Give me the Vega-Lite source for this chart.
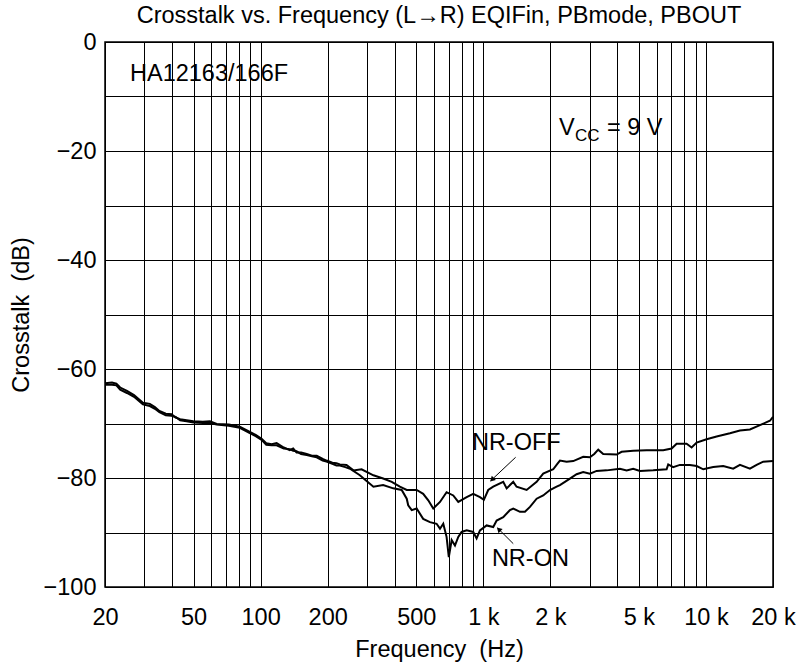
{
  "$schema": "https://vega.github.io/schema/vega-lite/v6.json",
  "autosize": {"type": "none"},
  "width": 668,
  "height": 545,
  "padding": {"left": 105, "top": 42, "right": 26, "bottom": 84},
  "background": "white",
  "title": {"text": "Crosstalk vs. Frequency (L\u2192R) EQIFin, PBmode, PBOUT", "font": "Liberation Sans", "fontSize": 23.5, "fontWeight": "normal", "color": "black", "offset": 3, "frame": "group", "anchor": "middle"},
  "config": {
    "font": "Liberation Sans",
    "view": {"stroke": "black", "strokeWidth": 1.5},
    "axis": {"labelFont": "Liberation Sans", "labelFontSize": 23.5, "labelColor": "black", "titleFont": "Liberation Sans", "titleFontSize": 23.5, "titleFontWeight": "normal", "titleColor": "black", "domain": false, "ticks": false, "grid": true, "gridColor": "black", "gridOpacity": 1, "gridWidth": 1, "labelOverlap": false, "labelFlush": false, "labelBound": false}
  },
  "datasets": {
    "curves": [
      {"series": "NR-OFF", "freq": 20, "db": -62.6}, {"series": "NR-OFF", "freq": 21.5, "db": -62.5}, {"series": "NR-OFF", "freq": 22.5, "db": -62.7}, {"series": "NR-OFF", "freq": 23.4, "db": -63.4}, {"series": "NR-OFF", "freq": 25.1, "db": -64.0}, {"series": "NR-OFF", "freq": 27, "db": -64.8}, {"series": "NR-OFF", "freq": 29.6, "db": -66.2}, {"series": "NR-OFF", "freq": 31.8, "db": -66.4}, {"series": "NR-OFF", "freq": 33.5, "db": -67.0}, {"series": "NR-OFF", "freq": 35.1, "db": -67.7}, {"series": "NR-OFF", "freq": 37.5, "db": -68.2}, {"series": "NR-OFF", "freq": 39.8, "db": -68.3}, {"series": "NR-OFF", "freq": 41.5, "db": -68.9}, {"series": "NR-OFF", "freq": 43.5, "db": -69.2}, {"series": "NR-OFF", "freq": 46.5, "db": -69.4}, {"series": "NR-OFF", "freq": 49.9, "db": -69.6}, {"series": "NR-OFF", "freq": 55, "db": -69.7}, {"series": "NR-OFF", "freq": 59.2, "db": -69.6}, {"series": "NR-OFF", "freq": 63.5, "db": -70.1}, {"series": "NR-OFF", "freq": 72, "db": -70.2}, {"series": "NR-OFF", "freq": 80.6, "db": -70.6}, {"series": "NR-OFF", "freq": 89, "db": -71.5}, {"series": "NR-OFF", "freq": 95, "db": -72.1}, {"series": "NR-OFF", "freq": 101, "db": -72.8}, {"series": "NR-OFF", "freq": 106, "db": -73.6}, {"series": "NR-OFF", "freq": 112, "db": -73.8}, {"series": "NR-OFF", "freq": 118, "db": -73.6}, {"series": "NR-OFF", "freq": 127, "db": -74.4}, {"series": "NR-OFF", "freq": 135, "db": -74.9}, {"series": "NR-OFF", "freq": 140, "db": -74.6}, {"series": "NR-OFF", "freq": 145, "db": -75.3}, {"series": "NR-OFF", "freq": 152, "db": -75.3}, {"series": "NR-OFF", "freq": 161, "db": -75.6}, {"series": "NR-OFF", "freq": 170, "db": -75.9}, {"series": "NR-OFF", "freq": 178.6, "db": -75.9}, {"series": "NR-OFF", "freq": 190, "db": -76.5}, {"series": "NR-OFF", "freq": 197.6, "db": -76.8}, {"series": "NR-OFF", "freq": 210, "db": -77.2}, {"series": "NR-OFF", "freq": 219, "db": -77.3}, {"series": "NR-OFF", "freq": 227, "db": -77.5}, {"series": "NR-OFF", "freq": 243, "db": -77.6}, {"series": "NR-OFF", "freq": 261, "db": -78.6}, {"series": "NR-OFF", "freq": 284, "db": -78.4}, {"series": "NR-OFF", "freq": 321, "db": -79.5}, {"series": "NR-OFF", "freq": 355, "db": -80.1}, {"series": "NR-OFF", "freq": 388, "db": -80.7}, {"series": "NR-OFF", "freq": 422, "db": -81.6}, {"series": "NR-OFF", "freq": 453, "db": -82.2}, {"series": "NR-OFF", "freq": 502, "db": -82.2}, {"series": "NR-OFF", "freq": 537, "db": -82.9}, {"series": "NR-OFF", "freq": 566, "db": -84.1}, {"series": "NR-OFF", "freq": 596, "db": -85.6}, {"series": "NR-OFF", "freq": 639, "db": -84.4}, {"series": "NR-OFF", "freq": 684, "db": -82.6}, {"series": "NR-OFF", "freq": 733, "db": -83.2}, {"series": "NR-OFF", "freq": 772, "db": -84.4}, {"series": "NR-OFF", "freq": 842, "db": -83.5}, {"series": "NR-OFF", "freq": 901, "db": -82.9}, {"series": "NR-OFF", "freq": 966, "db": -83.5}, {"series": "NR-OFF", "freq": 1006, "db": -84.0}, {"series": "NR-OFF", "freq": 1052, "db": -82.2}, {"series": "NR-OFF", "freq": 1108, "db": -81.6}, {"series": "NR-OFF", "freq": 1229, "db": -80.7}, {"series": "NR-OFF", "freq": 1273, "db": -81.9}, {"series": "NR-OFF", "freq": 1363, "db": -80.7}, {"series": "NR-OFF", "freq": 1411, "db": -81.6}, {"series": "NR-OFF", "freq": 1565, "db": -82.2}, {"series": "NR-OFF", "freq": 1736, "db": -80.7}, {"series": "NR-OFF", "freq": 1858, "db": -79.2}, {"series": "NR-OFF", "freq": 2061, "db": -78.4}, {"series": "NR-OFF", "freq": 2150, "db": -77.4}, {"series": "NR-OFF", "freq": 2209, "db": -76.8}, {"series": "NR-OFF", "freq": 2367, "db": -77.0}, {"series": "NR-OFF", "freq": 2535, "db": -76.9}, {"series": "NR-OFF", "freq": 2810, "db": -76.1}, {"series": "NR-OFF", "freq": 3012, "db": -76.2}, {"series": "NR-OFF", "freq": 3150, "db": -75.6}, {"series": "NR-OFF", "freq": 3282, "db": -74.8}, {"series": "NR-OFF", "freq": 3456, "db": -75.6}, {"series": "NR-OFF", "freq": 3970, "db": -75.7}, {"series": "NR-OFF", "freq": 4180, "db": -75.2}, {"series": "NR-OFF", "freq": 4712, "db": -75.0}, {"series": "NR-OFF", "freq": 5413, "db": -74.9}, {"series": "NR-OFF", "freq": 6426, "db": -74.9}, {"series": "NR-OFF", "freq": 7010, "db": -74.6}, {"series": "NR-OFF", "freq": 7382, "db": -73.7}, {"series": "NR-OFF", "freq": 8186, "db": -73.7}, {"series": "NR-OFF", "freq": 8621, "db": -74.4}, {"series": "NR-OFF", "freq": 9079, "db": -73.5}, {"series": "NR-OFF", "freq": 10066, "db": -72.9}, {"series": "NR-OFF", "freq": 11162, "db": -72.4}, {"series": "NR-OFF", "freq": 12812, "db": -71.8}, {"series": "NR-OFF", "freq": 14208, "db": -71.3}, {"series": "NR-OFF", "freq": 15756, "db": -71.1}, {"series": "NR-OFF", "freq": 17473, "db": -70.3}, {"series": "NR-OFF", "freq": 19370, "db": -69.5}, {"series": "NR-OFF", "freq": 20000, "db": -68.8},
      {"series": "NR-ON", "freq": 20, "db": -62.9}, {"series": "NR-ON", "freq": 21.5, "db": -62.9}, {"series": "NR-ON", "freq": 22.5, "db": -63.0}, {"series": "NR-ON", "freq": 23.4, "db": -63.8}, {"series": "NR-ON", "freq": 25.1, "db": -64.4}, {"series": "NR-ON", "freq": 27, "db": -65.1}, {"series": "NR-ON", "freq": 29.6, "db": -66.5}, {"series": "NR-ON", "freq": 31.8, "db": -66.8}, {"series": "NR-ON", "freq": 33.5, "db": -67.3}, {"series": "NR-ON", "freq": 35.1, "db": -67.9}, {"series": "NR-ON", "freq": 37.5, "db": -68.5}, {"series": "NR-ON", "freq": 39.8, "db": -68.6}, {"series": "NR-ON", "freq": 41.5, "db": -68.8}, {"series": "NR-ON", "freq": 43.5, "db": -69.4}, {"series": "NR-ON", "freq": 46.5, "db": -69.6}, {"series": "NR-ON", "freq": 49.9, "db": -69.8}, {"series": "NR-ON", "freq": 55, "db": -69.9}, {"series": "NR-ON", "freq": 59.2, "db": -69.9}, {"series": "NR-ON", "freq": 63.5, "db": -70.2}, {"series": "NR-ON", "freq": 72, "db": -70.4}, {"series": "NR-ON", "freq": 80.6, "db": -70.8}, {"series": "NR-ON", "freq": 89, "db": -71.7}, {"series": "NR-ON", "freq": 95, "db": -72.3}, {"series": "NR-ON", "freq": 101, "db": -73.0}, {"series": "NR-ON", "freq": 106, "db": -73.9}, {"series": "NR-ON", "freq": 112, "db": -74.0}, {"series": "NR-ON", "freq": 118, "db": -74.0}, {"series": "NR-ON", "freq": 127, "db": -74.6}, {"series": "NR-ON", "freq": 135, "db": -74.7}, {"series": "NR-ON", "freq": 140, "db": -75.0}, {"series": "NR-ON", "freq": 145, "db": -75.1}, {"series": "NR-ON", "freq": 152, "db": -75.6}, {"series": "NR-ON", "freq": 161, "db": -75.8}, {"series": "NR-ON", "freq": 170, "db": -76.0}, {"series": "NR-ON", "freq": 178.6, "db": -76.2}, {"series": "NR-ON", "freq": 190, "db": -76.8}, {"series": "NR-ON", "freq": 197.6, "db": -77.0}, {"series": "NR-ON", "freq": 210, "db": -77.4}, {"series": "NR-ON", "freq": 219, "db": -77.7}, {"series": "NR-ON", "freq": 227, "db": -77.7}, {"series": "NR-ON", "freq": 240, "db": -78.0}, {"series": "NR-ON", "freq": 252, "db": -78.3}, {"series": "NR-ON", "freq": 279, "db": -79.5}, {"series": "NR-ON", "freq": 300, "db": -80.6}, {"series": "NR-ON", "freq": 321, "db": -81.6}, {"series": "NR-ON", "freq": 355, "db": -81.3}, {"series": "NR-ON", "freq": 394, "db": -81.9}, {"series": "NR-ON", "freq": 430, "db": -82.2}, {"series": "NR-ON", "freq": 453, "db": -83.8}, {"series": "NR-ON", "freq": 460, "db": -85.0}, {"series": "NR-ON", "freq": 477, "db": -85.9}, {"series": "NR-ON", "freq": 502, "db": -85.6}, {"series": "NR-ON", "freq": 537, "db": -87.5}, {"series": "NR-ON", "freq": 576, "db": -88.1}, {"series": "NR-ON", "freq": 617, "db": -88.4}, {"series": "NR-ON", "freq": 639, "db": -89.3}, {"series": "NR-ON", "freq": 661, "db": -88.4}, {"series": "NR-ON", "freq": 684, "db": -90.8}, {"series": "NR-ON", "freq": 700, "db": -94.5}, {"series": "NR-ON", "freq": 721, "db": -91.4}, {"series": "NR-ON", "freq": 746, "db": -92.4}, {"series": "NR-ON", "freq": 772, "db": -90.8}, {"series": "NR-ON", "freq": 799, "db": -89.9}, {"series": "NR-ON", "freq": 842, "db": -89.6}, {"series": "NR-ON", "freq": 901, "db": -89.9}, {"series": "NR-ON", "freq": 933, "db": -91.1}, {"series": "NR-ON", "freq": 966, "db": -89.6}, {"series": "NR-ON", "freq": 1035, "db": -88.7}, {"series": "NR-ON", "freq": 1108, "db": -89.0}, {"series": "NR-ON", "freq": 1148, "db": -87.8}, {"series": "NR-ON", "freq": 1229, "db": -87.2}, {"series": "NR-ON", "freq": 1317, "db": -85.9}, {"series": "NR-ON", "freq": 1363, "db": -85.6}, {"series": "NR-ON", "freq": 1461, "db": -86.2}, {"series": "NR-ON", "freq": 1538, "db": -86.2}, {"series": "NR-ON", "freq": 1620, "db": -85.3}, {"series": "NR-ON", "freq": 1736, "db": -83.8}, {"series": "NR-ON", "freq": 1858, "db": -83.2}, {"series": "NR-ON", "freq": 1992, "db": -82.2}, {"series": "NR-ON", "freq": 2134, "db": -81.6}, {"series": "NR-ON", "freq": 2209, "db": -81.3}, {"series": "NR-ON", "freq": 2449, "db": -80.1}, {"series": "NR-ON", "freq": 2624, "db": -79.3}, {"series": "NR-ON", "freq": 2810, "db": -78.9}, {"series": "NR-ON", "freq": 3012, "db": -79.2}, {"series": "NR-ON", "freq": 3228, "db": -78.7}, {"series": "NR-ON", "freq": 3580, "db": -78.6}, {"series": "NR-ON", "freq": 4108, "db": -78.3}, {"series": "NR-ON", "freq": 4402, "db": -78.6}, {"series": "NR-ON", "freq": 4712, "db": -78.3}, {"series": "NR-ON", "freq": 5052, "db": -78.7}, {"series": "NR-ON", "freq": 5794, "db": -78.6}, {"series": "NR-ON", "freq": 6656, "db": -78.4}, {"series": "NR-ON", "freq": 6768, "db": -77.5}, {"series": "NR-ON", "freq": 7124, "db": -78.0}, {"series": "NR-ON", "freq": 7636, "db": -77.6}, {"series": "NR-ON", "freq": 8469, "db": -77.6}, {"series": "NR-ON", "freq": 9079, "db": -77.8}, {"series": "NR-ON", "freq": 9722, "db": -78.4}, {"series": "NR-ON", "freq": 10780, "db": -78.0}, {"series": "NR-ON", "freq": 11952, "db": -77.8}, {"series": "NR-ON", "freq": 13253, "db": -78.3}, {"series": "NR-ON", "freq": 14208, "db": -77.6}, {"series": "NR-ON", "freq": 15756, "db": -78.3}, {"series": "NR-ON", "freq": 16884, "db": -77.6}, {"series": "NR-ON", "freq": 18072, "db": -77.0}, {"series": "NR-ON", "freq": 20000, "db": -76.9}
    ],
    "labels": [
      {"kind": "main", "txt": "HA12163/166F", "freq": 25.9, "db": -5.9},
      {"kind": "main", "txt": "V", "freq": 2186, "db": -15.8},
      {"kind": "sub", "txt": "CC", "freq": 2580, "db": -17.3},
      {"kind": "main", "txt": "= 9 V", "freq": 3591, "db": -15.8},
      {"kind": "main", "txt": "NR-OFF", "freq": 889, "db": -73.6},
      {"kind": "main", "txt": "NR-ON", "freq": 1093, "db": -94.8}
    ],
    "arrows": [
      {"series": "NR-OFF", "f1": 1397, "d1": -76.2, "f2": 1080, "d2": -80.5, "tipf": 1094, "tipd": -80.3},
      {"series": "NR-ON", "f1": 1363, "d1": -92.05, "f2": 1160, "d2": -89.2, "tipf": 1173, "tipd": -89.4}
    ]
  },
  "layer": [
    {
      "data": {"name": "curves"},
      "mark": {"type": "line", "color": "black", "strokeWidth": 2, "interpolate": "linear"},
      "encoding": {
        "x": {"field": "freq", "type": "quantitative",
              "scale": {"type": "log", "domain": [20, 20000], "nice": false},
              "axis": {"values": [20,30,40,50,60,70,80,90,100,200,300,400,500,600,700,800,900,1000,2000,3000,4000,5000,6000,7000,8000,9000,10000,20000],
                       "labelExpr": "indexof([20,50,100,200,500], datum.value) >= 0 ? '' + datum.value : (indexof([1000,2000,5000,10000,20000], datum.value) >= 0 ? (datum.value/1000) + ' k' : '')",
                       "labelPadding": 30, "labelBaseline": "middle",
                       "title": "Frequency\u00a0 (Hz)", "titleY": 62, "titleBaseline": "middle"}},
        "y": {"field": "db", "type": "quantitative",
              "scale": {"domain": [-100, 0], "nice": false},
              "axis": {"values": [0,-10,-20,-30,-40,-50,-60,-70,-80,-90,-100],
                       "labelExpr": "datum.value % 20 == 0 ? (datum.value == 0 ? '0' : '\u2212' + (-datum.value)) : ''",
                       "labelPadding": 9,
                       "title": "Crosstalk\u00a0 (dB)", "titleX": -84, "titleY": 272.5, "titleBaseline": "middle", "titleAlign": "center", "titleAngle": -90}},
        "detail": {"field": "series"}
      }
    },
    {
      "data": {"name": "arrows"},
      "mark": {"type": "rule", "color": "black", "strokeWidth": 1},
      "encoding": {
        "x": {"field": "f1", "type": "quantitative"},
        "y": {"field": "d1", "type": "quantitative"},
        "x2": {"field": "f2"},
        "y2": {"field": "d2"}
      }
    },
    {
      "data": {"name": "arrows"},
      "transform": [{"filter": "datum.series == 'NR-OFF'"}],
      "mark": {"type": "point", "shape": "triangle-up", "filled": true, "color": "black", "size": 35, "angle": 226, "opacity": 1},
      "encoding": {
        "x": {"field": "tipf", "type": "quantitative"},
        "y": {"field": "tipd", "type": "quantitative"}
      }
    },
    {
      "data": {"name": "arrows"},
      "transform": [{"filter": "datum.series == 'NR-ON'"}],
      "mark": {"type": "point", "shape": "triangle-up", "filled": true, "color": "black", "size": 35, "angle": 315, "opacity": 1},
      "encoding": {
        "x": {"field": "tipf", "type": "quantitative"},
        "y": {"field": "tipd", "type": "quantitative"}
      }
    },
    {
      "data": {"name": "labels"},
      "transform": [{"filter": "datum.kind == 'main'"}],
      "mark": {"type": "text", "align": "left", "baseline": "middle", "fontSize": 23.5, "font": "Liberation Sans", "color": "black"},
      "encoding": {
        "x": {"field": "freq", "type": "quantitative"},
        "y": {"field": "db", "type": "quantitative"},
        "text": {"field": "txt"}
      }
    },
    {
      "data": {"name": "labels"},
      "transform": [{"filter": "datum.kind == 'sub'"}],
      "mark": {"type": "text", "align": "left", "baseline": "middle", "fontSize": 17, "font": "Liberation Sans", "color": "black"},
      "encoding": {
        "x": {"field": "freq", "type": "quantitative"},
        "y": {"field": "db", "type": "quantitative"},
        "text": {"field": "txt"}
      }
    }
  ]
}
